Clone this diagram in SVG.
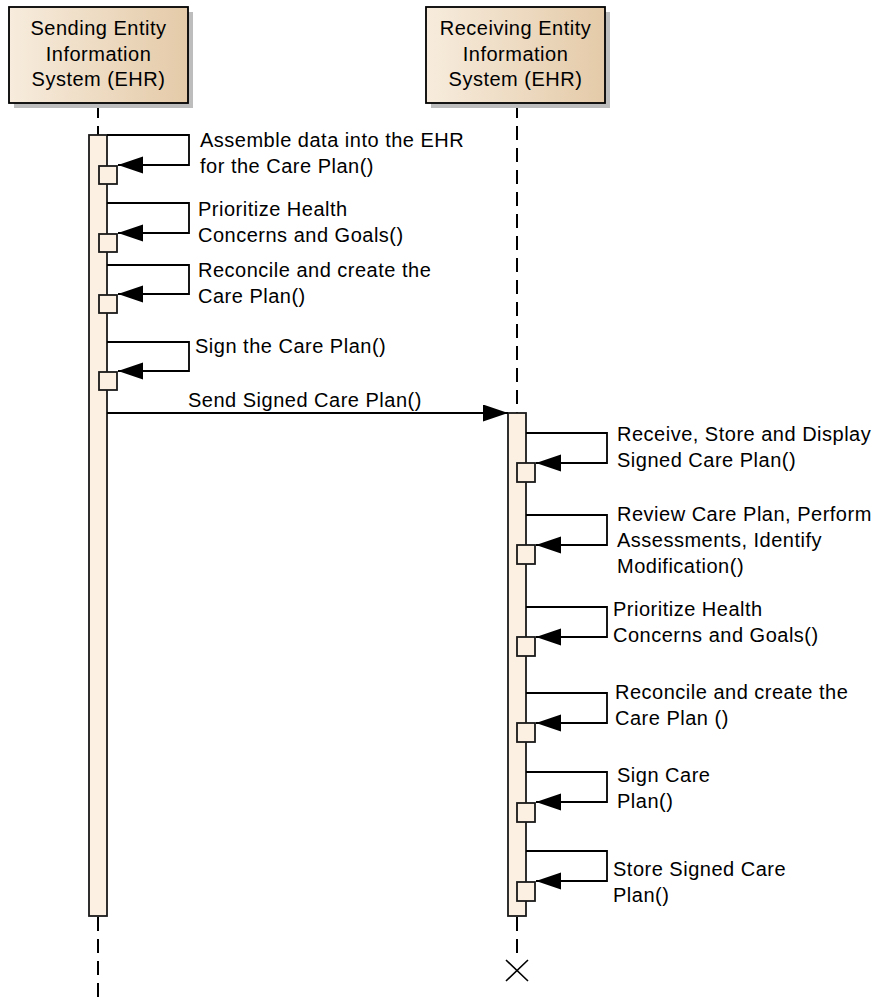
<svg xmlns="http://www.w3.org/2000/svg" width="873" height="997" viewBox="0 0 873 997">
  <style>
    text { font-family: "Liberation Sans", Arial, sans-serif; font-size: 20px; letter-spacing: 0.5px; fill: #000; }
    .hdr { text-anchor: middle; }
    .box { fill: url(#hdrFill); stroke: #000; stroke-width: 1.8; }
    .shadow { fill: #bdbdbd; }
    .life { fill: none; stroke: #000; stroke-width: 2; stroke-dasharray: 14 8; }
    .act { fill: #fcf0e2; stroke: #1a1a1a; stroke-width: 1.8; }
    .msg { fill: none; stroke: #000; stroke-width: 1.8; marker-end: url(#head); }
    .kill { fill: none; stroke: #000; stroke-width: 1.6; }
  </style>
  <defs>
    <linearGradient id="hdrFill" x1="0" y1="0" x2="1" y2="0">
      <stop offset="0" stop-color="#f7ecdd"/>
      <stop offset="1" stop-color="#e4caa8"/>
    </linearGradient>
    <marker id="head" markerUnits="userSpaceOnUse" markerWidth="26" markerHeight="18" refX="25" refY="8.5" orient="auto">
      <path d="M0,0 L25,8.5 L0,17 Z" fill="#000"/>
    </marker>
  </defs>

  <!-- lifelines -->
  <g id="lifelines">
    <line class="life" x1="98" y1="104" x2="98" y2="135"/>
    <line class="life" x1="98" y1="917" x2="98" y2="997"/>
    <line class="life" x1="517" y1="104" x2="517" y2="413"/>
    <line class="life" x1="517" y1="917" x2="517" y2="960"/>
  </g>

  <!-- sending entity -->
  <g id="sender">
    <rect class="shadow" x="14" y="12" width="179" height="96"/>
    <rect class="box" x="9" y="7" width="179" height="96"/>
    <text class="hdr" x="98.5" y="35">Sending Entity</text>
    <text class="hdr" x="98.5" y="60.5">Information</text>
    <text class="hdr" x="98.5" y="86">System (EHR)</text>
    <rect class="act" x="89" y="135" width="18" height="781"/>
  </g>

  <!-- receiving entity -->
  <g id="receiver">
    <rect class="shadow" x="431" y="12" width="179" height="96"/>
    <rect class="box" x="426" y="7" width="179" height="96"/>
    <text class="hdr" x="515.5" y="35">Receiving Entity</text>
    <text class="hdr" x="515.5" y="60.5">Information</text>
    <text class="hdr" x="515.5" y="86">System (EHR)</text>
    <rect class="act" x="508" y="413" width="18" height="503"/>
    <path class="kill" d="M506,960 L528,981 M528,960 L506,981"/>
  </g>

  <!-- execution occurrences of self calls -->
  <g id="sender-calls">
    <rect class="act" x="99" y="166" width="18" height="18"/>
    <rect class="act" x="99" y="234" width="18" height="18"/>
    <rect class="act" x="99" y="295" width="18" height="18"/>
    <rect class="act" x="99" y="372" width="18" height="18"/>
  </g>
  <g id="receiver-calls">
    <rect class="act" x="517" y="463" width="18" height="19"/>
    <rect class="act" x="517" y="545" width="18" height="19"/>
    <rect class="act" x="517" y="637" width="18" height="19"/>
    <rect class="act" x="517" y="723" width="18" height="19"/>
    <rect class="act" x="517" y="803" width="18" height="19"/>
    <rect class="act" x="517" y="882" width="18" height="19"/>
  </g>

  <!-- messages -->
  <g id="connectors">
    <path class="msg" d="M107,135 H189 V165 H118"/>
    <path class="msg" d="M107,203 H189 V233 H118"/>
    <path class="msg" d="M107,265 H189 V294 H118"/>
    <path class="msg" d="M107,342 H189 V371 H118"/>
    <path class="msg" d="M107,413 H508"/>
    <path class="msg" d="M526,433 H607 V463 H536"/>
    <path class="msg" d="M526,515 H607 V545 H536"/>
    <path class="msg" d="M526,607 H607 V637 H536"/>
    <path class="msg" d="M526,693 H607 V723 H536"/>
    <path class="msg" d="M526,772 H607 V802 H536"/>
    <path class="msg" d="M526,851 H607 V881 H536"/>
  </g>

  <!-- message labels -->
  <g id="labels">
    <text x="200" y="147">Assemble data into the EHR</text>
    <text x="200" y="173">for the Care Plan()</text>
    <text x="198" y="216">Prioritize Health</text>
    <text x="198" y="242">Concerns and Goals()</text>
    <text x="198" y="277">Reconcile and create the</text>
    <text x="198" y="303">Care Plan()</text>
    <text x="195" y="353">Sign the Care Plan()</text>
    <text x="188" y="407">Send Signed Care Plan()</text>
    <text x="617" y="441">Receive, Store and Display</text>
    <text x="617" y="467">Signed Care Plan()</text>
    <text x="617" y="521">Review Care Plan, Perform</text>
    <text x="617" y="547">Assessments, Identify</text>
    <text x="617" y="573">Modification()</text>
    <text x="613" y="616">Prioritize Health</text>
    <text x="613" y="642">Concerns and Goals()</text>
    <text x="615" y="699">Reconcile and create the</text>
    <text x="615" y="725">Care Plan ()</text>
    <text x="617" y="782">Sign Care</text>
    <text x="617" y="808">Plan()</text>
    <text x="613" y="876">Store Signed Care</text>
    <text x="613" y="902">Plan()</text>
  </g>
</svg>
